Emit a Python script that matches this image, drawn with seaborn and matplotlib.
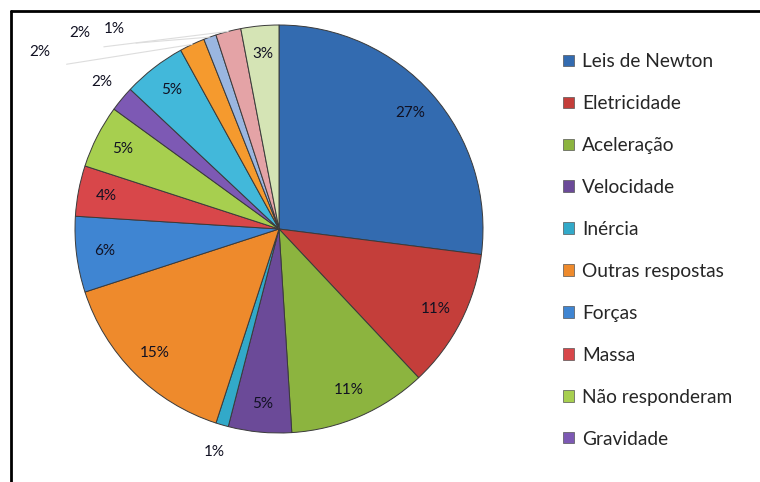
import numpy as np
import matplotlib
matplotlib.use('Agg')
import matplotlib.pyplot as plt
from matplotlib.lines import Line2D
import seaborn as sns

#### DATA

temas = ['Leis de Newton', 'Eletricidade', 'Aceleração', 'Velocidade', 'Inércia',
         'Outras respostas', 'Forças', 'Massa', 'Não responderam', 'Gravidade',
         'Extra 1', 'Extra 2', 'Extra 3', 'Extra 4', 'Extra 5']
percent = [27, 11, 11, 5, 1, 15, 6, 4, 5, 2, 5, 2, 1, 2, 3]
n_legend = 10

cores = ['#336bb0', '#c43e3a', '#8cb43f', '#6b4a98', '#32a9c9',
         '#ee8a2c', '#3f85d2', '#d8474a', '#a7cf4f', '#7d59b4',
         '#42b8da', '#f59a2e', '#9ab6e0', '#e4a3a6', '#d5e4b5']

# label placement: (radius factor, angle override in degrees or None)
inside_r = 0.86
outside = {4: (1.14, None), 9: (1.13, None),
           11: (1.46, 143.5), 12: (1.27, 129.5), 13: (1.37, 135.5)}


#### PLOT

sns.set_style("white")
plt.rcParams['font.family'] = ['Lato', 'DejaVu Sans']

W, H = 760, 482
fig = plt.figure(figsize=(W/100, H/100), dpi=100)

cx, cy, R = 279, 229, 204
ax = fig.add_axes([(cx - R)/W, (H - cy - R)/H, 2*R/W, 2*R/H])

wedges, _ = ax.pie(percent, colors=cores, startangle=90, counterclock=False,
                   radius=1, wedgeprops=dict(edgecolor='#3a3a3a', linewidth=0.7))
ax.set_xlim(-1, 1)
ax.set_ylim(-1, 1)
ax.set_aspect('equal')
ax.axis('off')

for i, w in enumerate(wedges):
    mid = np.deg2rad((w.theta1 + w.theta2)/2)
    txt = f'{percent[i]}%'
    if i in outside:
        rf, ang = outside[i]
        a = np.deg2rad(ang) if ang is not None else mid
        x, y = rf*np.cos(a), rf*np.sin(a)
        if ang is not None:
            ax.plot([np.cos(mid)*1.0, x*0.93 + 0.05], [np.sin(mid)*1.0, y*0.93],
                    color='#dddddd', lw=0.8, clip_on=False)
    else:
        x, y = inside_r*np.cos(mid), inside_r*np.sin(mid)
    ax.text(x, y, txt, ha='center', va='center', fontsize=11, color='#111122')

leg = fig.legend(wedges[:n_legend], temas[:n_legend], loc='upper left',
                 bbox_to_anchor=(546/W, 1 - 36/H), frameon=False,
                 fontsize=13.8, labelspacing=1.3, handlelength=0.55,
                 handleheight=0.55, handletextpad=0.45)
for h in leg.legend_handles:
    h.set_edgecolor('#555555')
    h.set_linewidth(0.5)

# chart border (top and left visible)
fig.add_artist(Line2D([11/W, 1], [1 - 10.5/H, 1 - 10.5/H], color='black', lw=2))
fig.add_artist(Line2D([11/W, 11/W], [0, 1 - 10.5/H], color='black', lw=2))

plt.savefig('out.png', dpi=100)
